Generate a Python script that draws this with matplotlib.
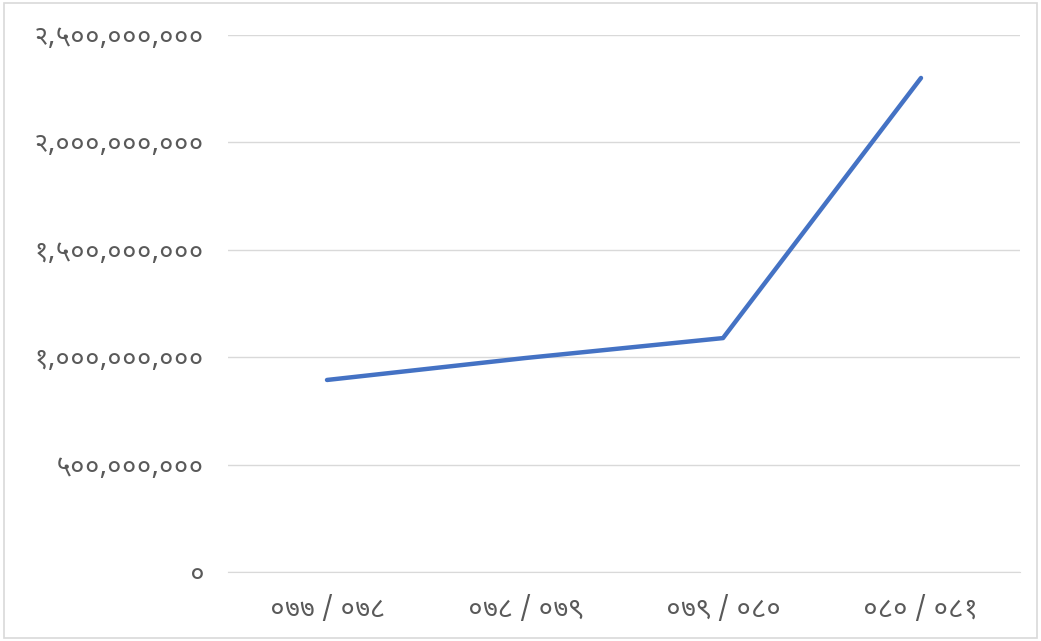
import matplotlib
matplotlib.use("Agg")
import matplotlib.pyplot as plt
from matplotlib import font_manager as fm
from matplotlib.ticker import FuncFormatter

# pick a font that has Devanagari digits
def find_deva_font():
    prefs = ["NotoSansDevanagari-Regular", "NotoSansDevanagariUI-Regular", "Mukta-Regular",
             "Hind-Regular", "Poppins-Regular"]
    files = fm.findSystemFonts()
    for p in prefs:
        for f in files:
            if f.split("/")[-1].startswith(p):
                return f
    return None

fpath = find_deva_font()
if fpath:
    fm.fontManager.addfont(fpath)
    deva = fm.FontProperties(fname=fpath).get_name()
    plt.rcParams["font.family"] = [deva, "DejaVu Sans"]

DEV = str.maketrans("0123456789", "०१२३४५६७८९")

years = ["०७७/०७८", "०७८/०७९", "०७९/०८०", "०८०/०८१"]
amount = [894_000_000, 996_000_000, 1_089_000_000, 2_300_000_000]

fig = plt.figure(figsize=(10.41, 6.41), dpi=100)
ax = fig.add_axes([228 / 1041, 1 - 572 / 641, (1020 - 228) / 1041, (572 - 35) / 641])

x = range(len(years))
ax.plot(x, amount, color="#4472C4", lw=3.2, solid_capstyle="round", solid_joinstyle="round", zorder=3)

ax.set_xlim(-0.5, len(years) - 0.5)
ax.set_ylim(0, 2_500_000_000)
ax.set_yticks([0, 500_000_000, 1_000_000_000, 1_500_000_000, 2_000_000_000, 2_500_000_000])
ax.yaxis.set_major_formatter(FuncFormatter(lambda v, p: f"{int(v):,}".translate(DEV)))
ax.set_xticks(list(x))
ax.set_xticklabels([y.replace("/", " / ") for y in years])
ax.grid(axis="y", color="#D9D9D9", lw=1)
ax.set_axisbelow(True)
for s in ax.spines.values():
    s.set_visible(False)
ax.spines["bottom"].set_visible(True)
ax.spines["bottom"].set_color("#D9D9D9")
ax.tick_params(length=0, labelsize=19.5, labelcolor="#595959")
ax.tick_params(axis="y", pad=17)
ax.tick_params(axis="x", pad=17)

# light frame round the chart area
fig.patches.append(plt.Rectangle((0.004, 0.004), 0.992, 0.992, transform=fig.transFigure,
                                 fill=False, edgecolor="#D9D9D9", lw=1.2))

fig.savefig("out.png", dpi=100)
